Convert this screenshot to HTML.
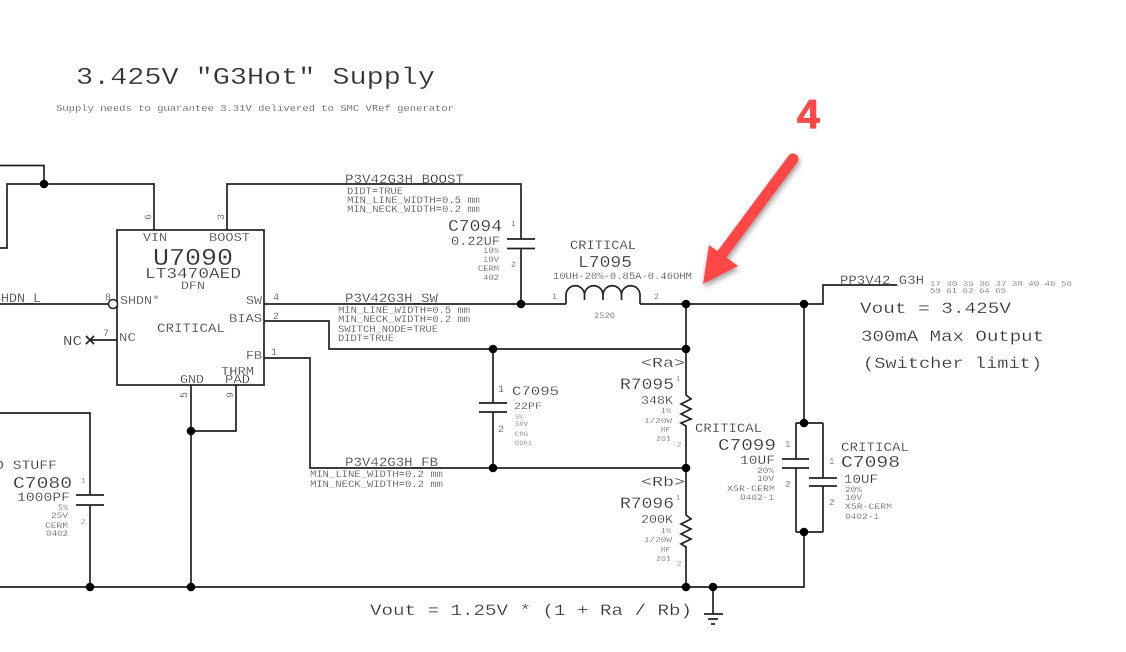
<!DOCTYPE html>
<html><head><meta charset="utf-8"><title>3.425V G3Hot Supply</title>
<style>
html,body{margin:0;padding:0;background:#fff;width:1126px;height:652px;overflow:hidden}
svg{display:block}
text{font-family:"Liberation Mono",monospace;fill:#333;stroke:#fff;stroke-width:.22;white-space:pre}
.w{fill:none;stroke:#222;stroke-width:1.7}
</style></head><body>
<svg width="1126" height="652" viewBox="0 0 1126 652" xmlns="http://www.w3.org/2000/svg">
<defs><filter id="sh" x="-30%" y="-30%" width="160%" height="160%"><feDropShadow dx="1" dy="3" stdDeviation="3" flood-color="#000" flood-opacity=".4"/></filter></defs>
<rect width="1126" height="652" fill="#fff"/>
<text x="76" y="84" font-size="24" textLength="359" lengthAdjust="spacingAndGlyphs">3.425V "G3Hot" Supply</text>
<text x="56" y="111" font-size="9.500" textLength="398" lengthAdjust="spacingAndGlyphs">Supply needs to guarantee 3.31V delivered to SMC VRef generator</text>
<text x="345" y="183" font-size="12.500" textLength="119" lengthAdjust="spacingAndGlyphs">P3V42G3H_BOOST</text>
<text x="347" y="194" font-size="10" textLength="56" lengthAdjust="spacingAndGlyphs">DIDT=TRUE</text>
<text x="347" y="203" font-size="10" textLength="133" lengthAdjust="spacingAndGlyphs">MIN_LINE_WIDTH=0.5 mm</text>
<text x="347" y="212" font-size="10" textLength="133" lengthAdjust="spacingAndGlyphs">MIN_NECK_WIDTH=0.2 mm</text>
<text x="448" y="231" font-size="16.500" textLength="54" lengthAdjust="spacingAndGlyphs">C7094</text>
<text x="451" y="245" font-size="12.500" textLength="49" lengthAdjust="spacingAndGlyphs">0.22UF</text>
<text x="483" y="253" font-size="8" textLength="16" lengthAdjust="spacingAndGlyphs">10%</text>
<text x="483" y="262" font-size="8" textLength="16" lengthAdjust="spacingAndGlyphs">10V</text>
<text x="478" y="271" font-size="8" textLength="21" lengthAdjust="spacingAndGlyphs">CERM</text>
<text x="483" y="280" font-size="8" textLength="16" lengthAdjust="spacingAndGlyphs">402</text>
<text x="511" y="226" font-size="8">1</text><text x="511" y="267" font-size="8">2</text>
<text x="570" y="249" font-size="12.500" textLength="66" lengthAdjust="spacingAndGlyphs">CRITICAL</text>
<text x="578" y="267" font-size="16.500" textLength="54" lengthAdjust="spacingAndGlyphs">L7095</text>
<text x="553" y="279" font-size="10" textLength="139" lengthAdjust="spacingAndGlyphs">10UH-20%-0.85A-0.46OHM</text>
<text x="552" y="299" font-size="8">1</text><text x="654" y="299" font-size="8">2</text>
<text x="594" y="318" font-size="8" textLength="21" lengthAdjust="spacingAndGlyphs">2520</text>
<text x="345" y="302" font-size="12.500" textLength="93" lengthAdjust="spacingAndGlyphs">P3V42G3H_SW</text>
<text x="338" y="313" font-size="10" textLength="132" lengthAdjust="spacingAndGlyphs">MIN_LINE_WIDTH=0.5 mm</text>
<text x="338" y="322" font-size="10" textLength="132" lengthAdjust="spacingAndGlyphs">MIN_NECK_WIDTH=0.2 mm</text>
<text x="338" y="332" font-size="10" textLength="100" lengthAdjust="spacingAndGlyphs">SWITCH_NODE=TRUE</text>
<text x="338" y="341" font-size="10" textLength="56" lengthAdjust="spacingAndGlyphs">DIDT=TRUE</text>
<text x="143" y="241" font-size="11.500" textLength="24" lengthAdjust="spacingAndGlyphs">VIN</text>
<text x="209" y="241" font-size="11.500" textLength="41" lengthAdjust="spacingAndGlyphs">BOOST</text>
<text x="153" y="265" font-size="24" textLength="80" lengthAdjust="spacingAndGlyphs">U7090</text>
<text x="145" y="278" font-size="15" textLength="96" lengthAdjust="spacingAndGlyphs">LT3470AED</text>
<text x="181" y="289" font-size="11" textLength="24" lengthAdjust="spacingAndGlyphs">DFN</text>
<text x="120" y="304" font-size="11.500" textLength="40" lengthAdjust="spacingAndGlyphs">SHDN*</text>
<text x="246" y="304" font-size="11.500" textLength="16" lengthAdjust="spacingAndGlyphs">SW</text>
<text x="229" y="322" font-size="11.500" textLength="33" lengthAdjust="spacingAndGlyphs">BIAS</text>
<text x="119" y="341" font-size="11.500" textLength="17" lengthAdjust="spacingAndGlyphs">NC</text>
<text x="63" y="345" font-size="14" textLength="19" lengthAdjust="spacingAndGlyphs">NC</text>
<text x="157" y="332" font-size="12.500" textLength="68" lengthAdjust="spacingAndGlyphs">CRITICAL</text>
<text x="246" y="359" font-size="11.500" textLength="16" lengthAdjust="spacingAndGlyphs">FB</text>
<text x="221" y="375" font-size="11.500" textLength="33" lengthAdjust="spacingAndGlyphs">THRM</text>
<text x="225" y="383" font-size="11.500" textLength="25" lengthAdjust="spacingAndGlyphs">PAD</text>
<text x="180" y="383" font-size="11.500" textLength="24" lengthAdjust="spacingAndGlyphs">GND</text>
<text x="105" y="300" font-size="10">8</text><text x="273" y="300" font-size="10">4</text>
<text x="273" y="319" font-size="10">2</text><text x="103" y="336" font-size="10">7</text><text x="271" y="355" font-size="10">1</text>
<text transform="translate(151 220) rotate(-90)" font-size="10">6</text>
<text transform="translate(224 220) rotate(-90)" font-size="10">3</text>
<text transform="translate(187 398) rotate(-90)" font-size="10">5</text>
<text transform="translate(233 398) rotate(-90)" font-size="10">9</text>
<text x="-7" y="302" font-size="12.500" textLength="48" lengthAdjust="spacingAndGlyphs">SHDN_L</text>
<text x="345" y="466" font-size="12.500" textLength="93" lengthAdjust="spacingAndGlyphs">P3V42G3H_FB</text>
<text x="310" y="477" font-size="10" textLength="133" lengthAdjust="spacingAndGlyphs">MIN_LINE_WIDTH=0.2 mm</text>
<text x="310" y="487" font-size="10" textLength="133" lengthAdjust="spacingAndGlyphs">MIN_NECK_WIDTH=0.2 mm</text>
<text x="512" y="395" font-size="12.500" textLength="47" lengthAdjust="spacingAndGlyphs">C7095</text>
<text x="514" y="409" font-size="10.500" textLength="28" lengthAdjust="spacingAndGlyphs">22PF</text>
<text x="515" y="419" font-size="6.500" textLength="8" lengthAdjust="spacingAndGlyphs">5%</text>
<text x="515" y="426" font-size="6.500" textLength="13" lengthAdjust="spacingAndGlyphs">50V</text>
<text x="515" y="436" font-size="6.500" textLength="13" lengthAdjust="spacingAndGlyphs">C0G</text>
<text x="515" y="445" font-size="6.500" textLength="17" lengthAdjust="spacingAndGlyphs">0201</text>
<text x="498" y="392" font-size="10">1</text><text x="498" y="432" font-size="10">2</text>
<text x="641" y="367" font-size="13.500" textLength="44" lengthAdjust="spacingAndGlyphs">&lt;Ra&gt;</text>
<text x="620" y="389" font-size="15.500" textLength="54" lengthAdjust="spacingAndGlyphs">R7095</text>
<text x="676" y="381" font-size="7">1</text>
<text x="641" y="404" font-size="11.500" textLength="32" lengthAdjust="spacingAndGlyphs">348K</text>
<text x="661" y="413" font-size="7" textLength="10" lengthAdjust="spacingAndGlyphs">1%</text>
<text x="644" y="423" font-size="7.500" textLength="28" lengthAdjust="spacingAndGlyphs">1/20W</text>
<text x="661" y="432" font-size="7" textLength="9" lengthAdjust="spacingAndGlyphs">MF</text>
<text x="656" y="441" font-size="7.500" textLength="15" lengthAdjust="spacingAndGlyphs">201</text>
<text x="677" y="447" font-size="7">2</text>
<text x="695" y="432" font-size="12.500" textLength="67" lengthAdjust="spacingAndGlyphs">CRITICAL</text>
<text x="641" y="486" font-size="13.500" textLength="44" lengthAdjust="spacingAndGlyphs">&lt;Rb&gt;</text>
<text x="620" y="508" font-size="15.500" textLength="54" lengthAdjust="spacingAndGlyphs">R7096</text>
<text x="676" y="500" font-size="7">1</text>
<text x="641" y="523" font-size="11.500" textLength="32" lengthAdjust="spacingAndGlyphs">200K</text>
<text x="661" y="533" font-size="7" textLength="10" lengthAdjust="spacingAndGlyphs">1%</text>
<text x="644" y="542" font-size="7.500" textLength="28" lengthAdjust="spacingAndGlyphs">1/20W</text>
<text x="661" y="552" font-size="7" textLength="9" lengthAdjust="spacingAndGlyphs">MF</text>
<text x="656" y="561" font-size="7.500" textLength="15" lengthAdjust="spacingAndGlyphs">201</text>
<text x="677" y="566" font-size="7">2</text>
<text x="718" y="450" font-size="16.500" textLength="58" lengthAdjust="spacingAndGlyphs">C7099</text>
<text x="740" y="464" font-size="12.500" textLength="35" lengthAdjust="spacingAndGlyphs">10UF</text>
<text x="757" y="473" font-size="8" textLength="17" lengthAdjust="spacingAndGlyphs">20%</text>
<text x="757" y="481" font-size="8" textLength="17" lengthAdjust="spacingAndGlyphs">10V</text>
<text x="727" y="491" font-size="8" textLength="48" lengthAdjust="spacingAndGlyphs">X5R-CERM</text>
<text x="740" y="500" font-size="8" textLength="34" lengthAdjust="spacingAndGlyphs">0402-1</text>
<text x="785" y="447" font-size="9">1</text><text x="785" y="487" font-size="9">2</text>
<text x="841" y="451" font-size="12.500" textLength="68" lengthAdjust="spacingAndGlyphs">CRITICAL</text>
<text x="841" y="467" font-size="16.500" textLength="59" lengthAdjust="spacingAndGlyphs">C7098</text>
<text x="844" y="483" font-size="12.500" textLength="34" lengthAdjust="spacingAndGlyphs">10UF</text>
<text x="845" y="492" font-size="8" textLength="17" lengthAdjust="spacingAndGlyphs">20%</text>
<text x="845" y="500" font-size="8" textLength="17" lengthAdjust="spacingAndGlyphs">10V</text>
<text x="845" y="509" font-size="8" textLength="47" lengthAdjust="spacingAndGlyphs">X5R-CERM</text>
<text x="845" y="519" font-size="8" textLength="34" lengthAdjust="spacingAndGlyphs">0402-1</text>
<text x="829" y="464" font-size="9">1</text><text x="829" y="505" font-size="9">2</text>
<text x="-5" y="469" font-size="12.500" textLength="62" lengthAdjust="spacingAndGlyphs">O STUFF</text>
<text x="13" y="488" font-size="16.500" textLength="59" lengthAdjust="spacingAndGlyphs">C7080</text>
<text x="17" y="501" font-size="12.500" textLength="53" lengthAdjust="spacingAndGlyphs">1000PF</text>
<text x="58" y="510" font-size="8" textLength="10" lengthAdjust="spacingAndGlyphs">5%</text>
<text x="51" y="518" font-size="8" textLength="17" lengthAdjust="spacingAndGlyphs">25V</text>
<text x="45" y="528" font-size="8" textLength="23" lengthAdjust="spacingAndGlyphs">CERM</text>
<text x="46" y="536" font-size="8" textLength="22" lengthAdjust="spacingAndGlyphs">0402</text>
<text x="81" y="483" font-size="7">1</text><text x="81" y="524" font-size="7">2</text>
<text x="370" y="615" font-size="16" textLength="322" lengthAdjust="spacingAndGlyphs">Vout = 1.25V * (1 + Ra / Rb)</text>
<text x="840" y="284" font-size="12.500" textLength="84" lengthAdjust="spacingAndGlyphs">PP3V42_G3H</text>
<text x="930" y="286" font-size="7" textLength="142" lengthAdjust="spacingAndGlyphs">17 30 35 36 37 38 40 46 50</text>
<text x="930" y="293" font-size="7" textLength="76" lengthAdjust="spacingAndGlyphs">59 61 62 64 65</text>
<text x="860" y="313" font-size="16" textLength="151" lengthAdjust="spacingAndGlyphs">Vout = 3.425V</text>
<text x="861" y="341" font-size="16" textLength="183" lengthAdjust="spacingAndGlyphs">300mA Max Output</text>
<text x="863" y="368" font-size="16" textLength="179" lengthAdjust="spacingAndGlyphs">(Switcher limit)</text>
<path class="w" d="M0 165.500H44V184M0 248H7V184H154V230"/>
<rect class="w" x="117" y="230" width="147" height="155"/>
<path class="w" d="M227 230V184H521V239M521 248V304M264 304H566M640 304H823V285H897"/>
<path class="w" d="M566 304V295A9.250 9.250 0 0 1 584.500 295V300M584.500 295A9.250 9.250 0 0 1 603 295V300M603 295A9.250 9.250 0 0 1 621.500 295V300M621.500 295A9.250 9.250 0 0 1 640 295V304"/>
<path class="w" d="M507 239H535M507 248.500H535"/>
<path class="w" d="M264 321H329V349H686M264 358H310V468H686"/>
<path class="w" d="M493 349V403M493 412V468M479 403H507M479 412H507"/>
<path class="w" d="M686 304V395L691 399L681 404L691 409L681 414L691 419L681 423L686 426V515L691 519L681 524L691 529L681 534L691 539L681 544L686 547V587"/>
<path class="w" d="M0 587H804V532M804 304V423M796 423H823M796 532H823M796 423V459M796 468V532M823 423V478M823 486V532"/>
<path class="w" d="M782 459H809M782 468H809M809 478H837M809 486H837"/>
<path class="w" d="M713 587V614M704 614H723M708 619H718M711 624H715"/>
<path class="w" d="M0 413H90V495M90 505V587M76 495H104M76 505H104"/>
<path class="w" d="M191 385V587M236 385V431H191"/>
<path class="w" d="M0 304H108M117 340H90M86 336L94 344M94 336L86 344"/>
<circle cx="113" cy="304" r="4.500" fill="#fff" stroke="#222" stroke-width="1.500"/>
<g fill="#000">
<circle cx="44" cy="184" r="4.300"/><circle cx="521" cy="304" r="4.300"/><circle cx="686" cy="304" r="4.300"/><circle cx="804" cy="304" r="4.300"/>
<circle cx="493" cy="349" r="4.300"/><circle cx="686" cy="349" r="4.300"/><circle cx="493" cy="468" r="4.300"/><circle cx="686" cy="468" r="4.300"/>
<circle cx="804" cy="423" r="4.300"/><circle cx="804" cy="532" r="4.300"/><circle cx="191" cy="431" r="4.300"/>
<circle cx="90" cy="587" r="4.300"/><circle cx="191" cy="587" r="4.300"/><circle cx="686" cy="587" r="4.300"/><circle cx="713" cy="587" r="4.300"/>
</g>
<g filter="url(#sh)">
<path d="M793 159L720 257" fill="none" stroke="#ff4646" stroke-width="11" stroke-linecap="round"/>
<path d="M703 284L709 245L738 266Z" fill="#ff4646"/>
</g>
<text x="797" y="128" font-size="41" style="font-family:'Liberation Sans',sans-serif;font-weight:bold;fill:#fc4848;stroke:#fc4848;stroke-width:.8">4</text>
</svg>
</body></html>
